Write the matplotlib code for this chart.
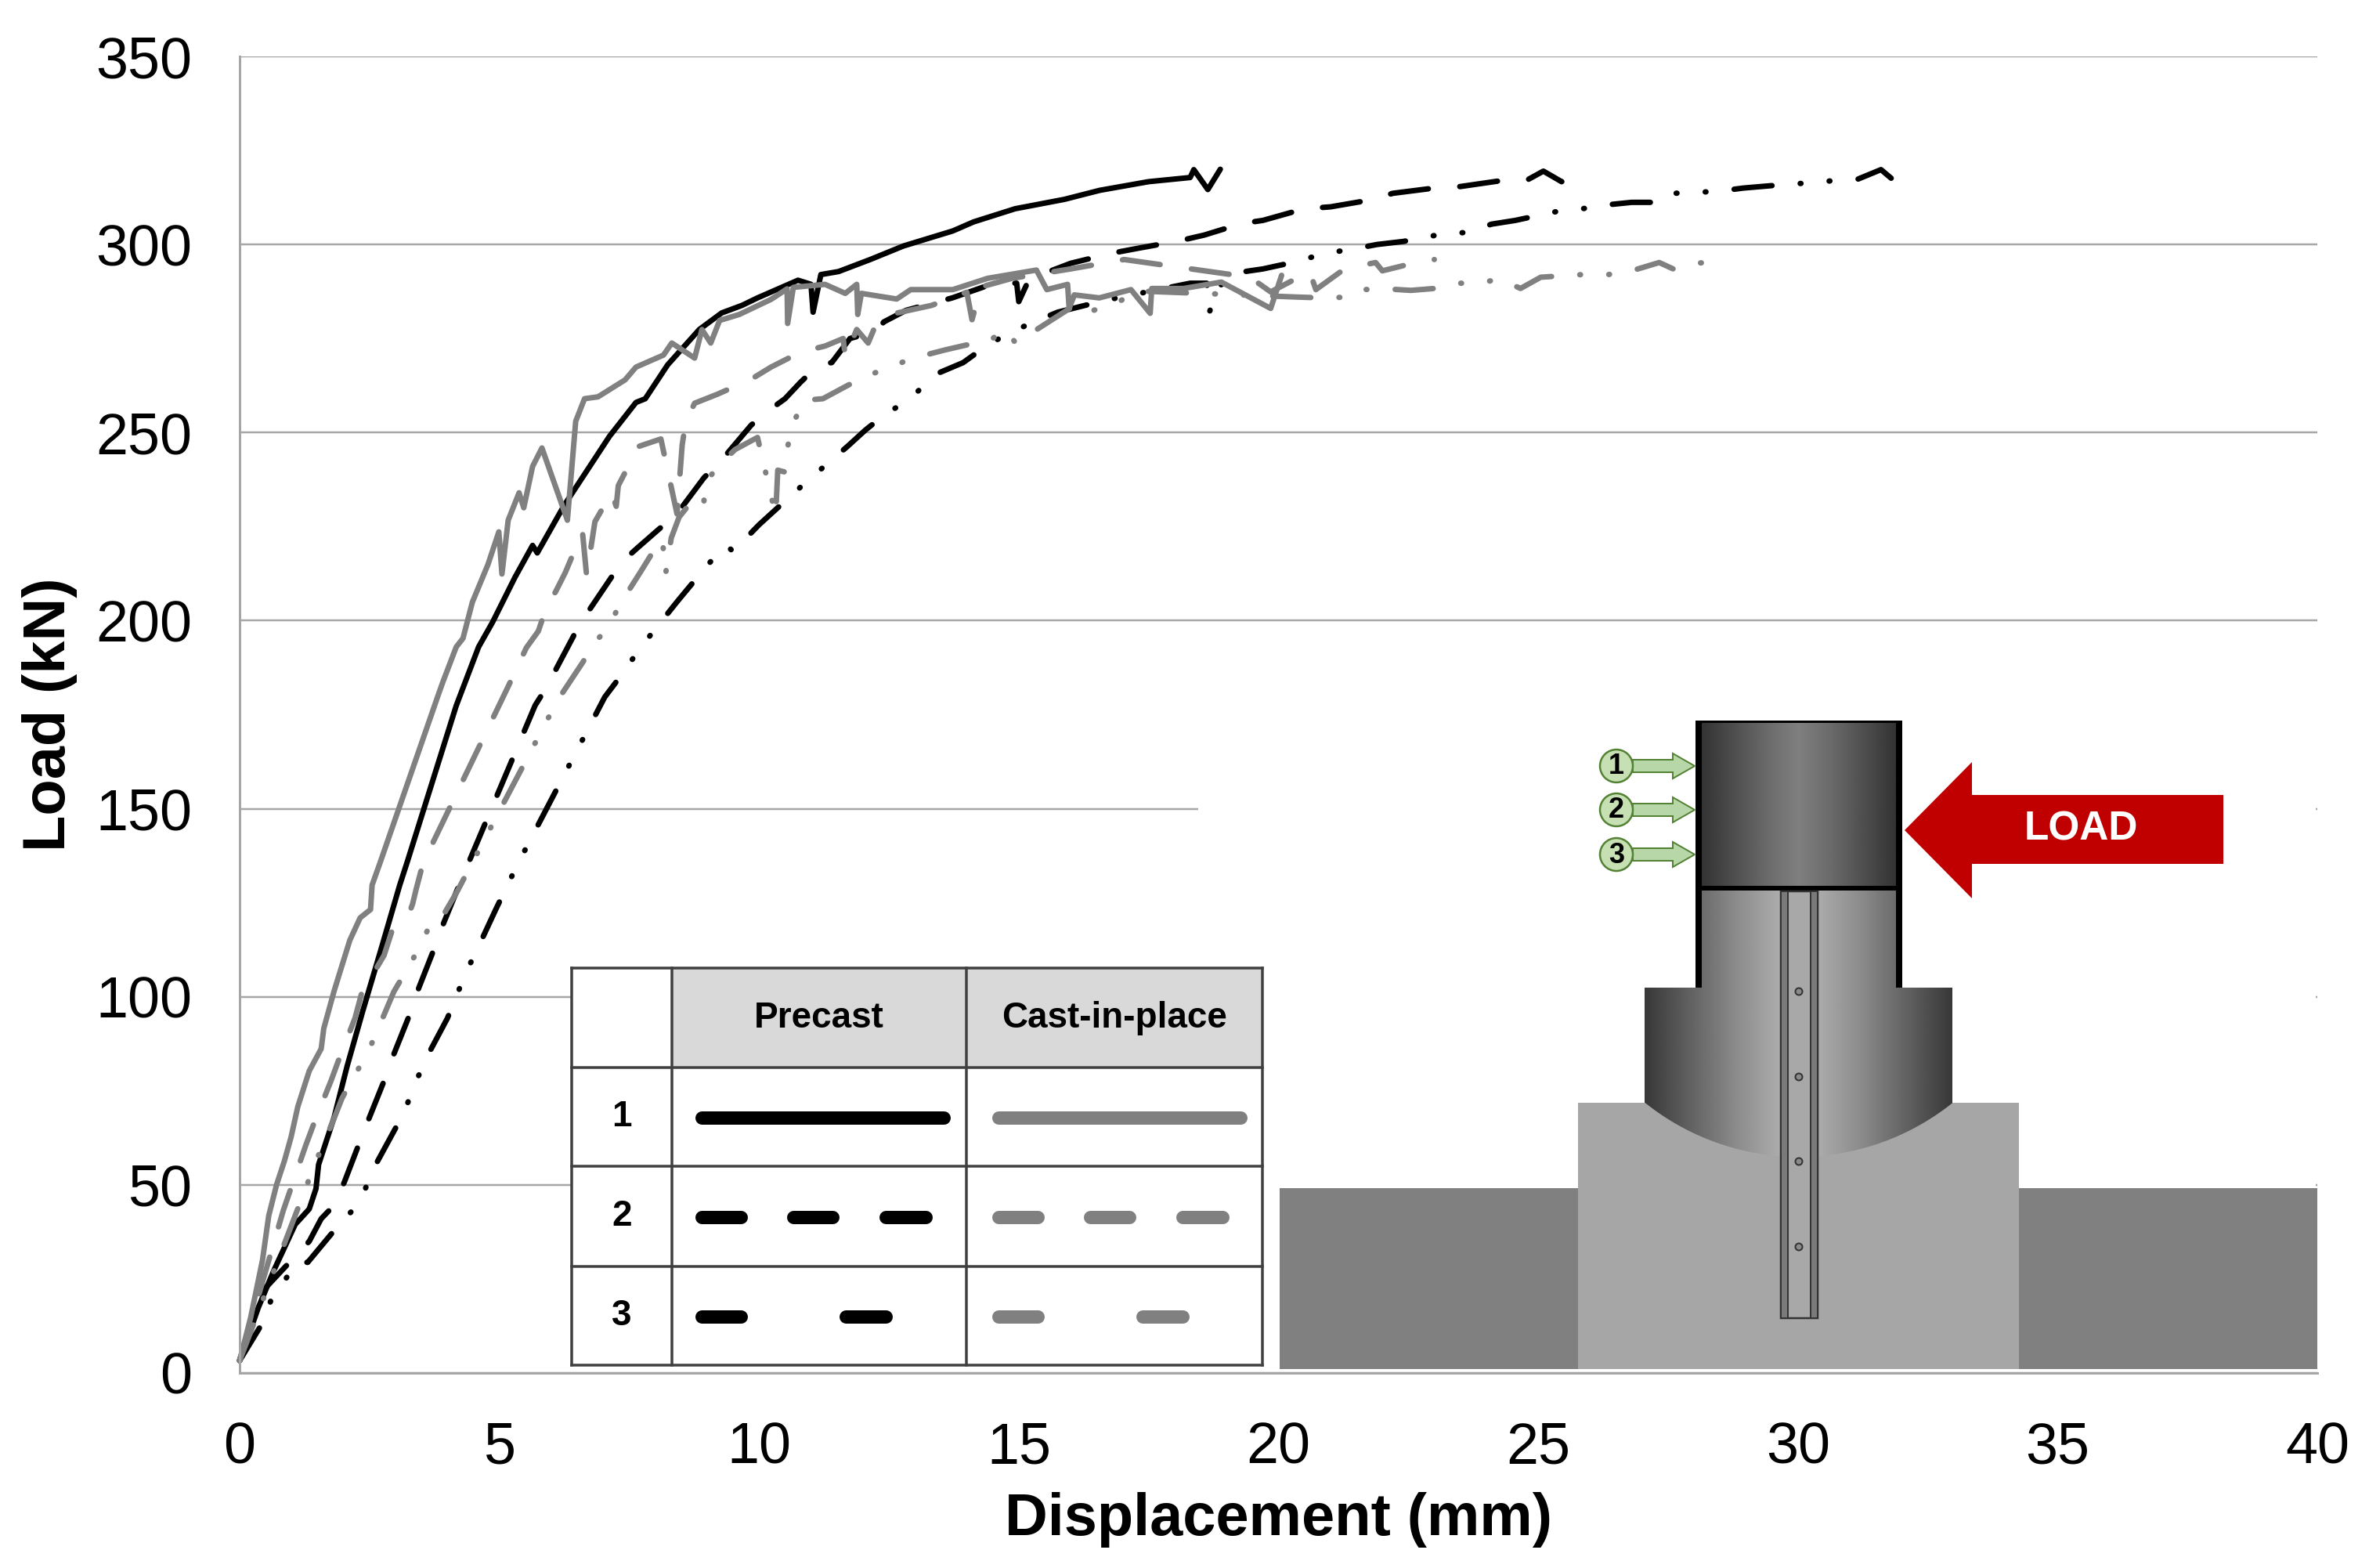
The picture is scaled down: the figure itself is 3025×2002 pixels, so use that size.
import matplotlib
matplotlib.use("Agg")
import matplotlib.pyplot as plt
import numpy as np
from matplotlib.patches import Circle, Polygon, Rectangle

plt.rcParams["font.family"] = ["Liberation Sans", "DejaVu Sans"]
plt.rcParams["lines.scale_dashes"] = False

# Load-displacement curves (mm, kN)
precast_1_x = [0.0, 0.36, 0.66, 1.07, 1.34, 1.47, 1.52, 1.82, 2.07, 2.37, 2.73, 3.08, 3.23, 4.17, 4.6, 4.87, 5.3, 5.64, 5.73, 6.25, 7.12, 7.63, 7.81, 8.24, 8.85, 9.28, 9.67, 9.97, 10.75, 11.0, 11.04, 11.19, 11.53, 12.14, 12.78, 13.73, 14.13, 14.93, 15.88, 16.56, 17.5, 18.3, 18.37, 18.64, 18.88]
precast_1_y = [3.3, 17.4, 27.3, 39.5, 43.6, 49, 55.4, 68, 81.6, 96.2, 113, 129.6, 136, 177.4, 193, 199.6, 211.5, 220, 218, 230.7, 249, 258, 259, 268, 277.4, 281.8, 283.8, 285.8, 290.5, 289.4, 282, 292, 292.8, 296, 299.6, 303.6, 306, 309.5, 312, 314.4, 316.7, 317.8, 319.9, 314.6, 320]

precast_2_x = [0.0, 0.05, 0.51, 1.34, 1.57, 1.82, 2.02, 2.32, 2.5, 2.82, 2.97, 3.3, 3.45, 3.76, 3.93, 4.25, 5.69, 5.85, 6.08, 6.47, 6.73, 7.2, 7.51, 7.68, 8.07, 8.42, 8.94, 9.28, 9.85, 10.19, 10.5, 10.8, 11.15, 11.4, 11.75, 12.27, 12.4, 12.83, 13.72, 14.53, 14.96, 15.0, 15.2, 16.0, 16.8, 17.3, 18.1, 18.57, 19.3, 19.7, 20.5, 21.0, 21.8, 22.2, 23.0, 23.5, 24.3, 24.77, 25.1, 25.45, 25.64, 25.85]
precast_2_y = [3.3, 5.5, 22.8, 35, 41, 44.6, 50.9, 61.7, 68, 79, 84.8, 96.2, 102.4, 113.3, 119.7, 130.5, 177.5, 181, 186.8, 197, 202.8, 212.4, 217.5, 219.6, 224.3, 228.4, 238, 242.7, 252, 255.9, 259, 263.4, 268, 268.6, 275, 277, 279.4, 282.5, 285.8, 289.7, 289.7, 284.8, 290.8, 295, 297.7, 299, 301, 302.5, 305.6, 306.4, 309.5, 310, 311.9, 313.6, 315, 315.4, 317, 317, 319.5, 316.7, 317, 320]

precast_3_x = [0.0, 0.44, 0.61, 1.12, 1.31, 1.87, 2.17, 2.42, 2.62, 3.03, 3.23, 3.4, 3.6, 4.0, 4.18, 4.36, 4.58, 4.93, 5.14, 5.35, 7.03, 7.32, 7.6, 7.9, 8.42, 8.72, 9.02, 9.37, 9.5, 10.0, 10.7, 11.06, 11.7, 12.05, 12.44, 12.83, 13.45, 13.93, 14.3, 14.73, 15.27, 15.75, 16.68, 18.3, 18.62, 18.67, 18.84, 19.2, 19.7, 20.2, 20.93, 21.44, 21.9, 22.4, 23.2, 23.65, 24.1, 24.56, 25.37, 25.85, 26.3, 26.8, 27.3, 27.6, 28.0, 28.5, 28.95, 29.8, 30.26, 30.7, 31.16, 31.6, 31.9, 32.15]
precast_3_y = [3.3, 13.3, 19.6, 29.6, 29.4, 38.7, 43.2, 49, 55.4, 65.8, 71.6, 77.6, 83.9, 94.3, 100.4, 106.6, 112.8, 123.2, 129.2, 135.2, 179.7, 185, 190.5, 196, 205, 210, 215, 220, 218.4, 225.5, 234.3, 238.7, 246.3, 250.7, 255, 258.2, 265.8, 268.6, 272.3, 275.9, 279.3, 282, 285.2, 289.7, 289.7, 282, 288.7, 292.5, 293.5, 295, 297.7, 298.8, 300, 300.8, 302.9, 303.2, 305.4, 306.4, 308.8, 309.5, 310.5, 311.2, 311.2, 313.6, 313.8, 314.2, 315, 316, 316.4, 317, 317.4, 319.9, 316.4, 317.2]

cast_1_x = [0.0, 0.21, 0.44, 0.56, 0.71, 0.86, 0.99, 1.12, 1.34, 1.57, 1.62, 1.82, 2.12, 2.32, 2.52, 2.55, 2.7, 3.83, 3.91, 4.17, 4.3, 4.48, 4.78, 4.99, 5.05, 5.17, 5.38, 5.47, 5.64, 5.82, 6.31, 6.47, 6.64, 6.9, 7.42, 7.63, 8.16, 8.32, 8.76, 8.9, 9.07, 9.24, 9.62, 10.23, 10.54, 10.55, 10.66, 11.27, 11.66, 11.88, 11.9, 11.97, 12.65, 12.92, 13.73, 14.4, 15.34, 15.54, 15.94, 15.97, 16.07, 16.55, 17.16, 17.53, 17.56, 18.17, 18.9, 19.85, 20.06]
cast_1_y = [3.3, 14.6, 30, 41.8, 50, 56.3, 62.7, 70.8, 80.3, 86.2, 91.6, 101.6, 115, 121, 123.2, 129.7, 135.5, 180.5, 183.6, 193, 195.3, 204.9, 214.9, 223.6, 212.4, 226.7, 234, 230, 241, 245.9, 226.7, 253, 259, 259.5, 264, 267.4, 270.6, 273.8, 269.8, 277.4, 273.8, 279.8, 281.4, 285.4, 288.2, 279, 288.6, 289.4, 287, 289.4, 281.4, 287, 285.5, 288, 288, 291, 293.2, 288, 289.4, 283, 286.6, 285.8, 288, 281.7, 288.3, 288.3, 290, 283, 291.8]

cast_2_x = [0.0, 0.84, 1.0, 1.27, 1.44, 1.76, 1.92, 2.22, 2.35, 2.78, 2.93, 3.27, 3.33, 3.4, 3.53, 5.17, 5.52, 5.75, 5.95, 6.08, 6.27, 6.6, 6.68, 6.84, 7.16, 7.25, 7.29, 7.68, 8.11, 8.42, 8.52, 8.59, 8.76, 9.2, 9.85, 10.23, 10.8, 11.27, 11.62, 11.66, 11.88, 12.1, 12.27, 12.66, 13.32, 14.0, 14.1, 14.27, 14.87, 16.0, 17.03, 19.45, 19.85, 20.6, 20.72, 21.27, 21.87, 22.0, 22.47, 23.0]
cast_2_y = [3.3, 43.2, 49.6, 60.4, 66.7, 77.7, 83.7, 94.3, 101, 111, 117.4, 122.4, 124.7, 128.7, 135.5, 182.5, 192.8, 197.2, 205.3, 207.6, 212.8, 223.6, 212, 226.3, 234, 230.4, 235.9, 246.3, 248.3, 228.4, 246.7, 253, 257.8, 260.2, 264.2, 267.4, 271.4, 273, 275, 270, 277.4, 273.8, 279.4, 281.8, 283.8, 287.3, 280, 288.7, 291, 293.5, 296, 291.3, 287.4, 292.8, 288, 293.5, 295.2, 293, 294.6, 296]

cast_3_x = [0.0, 1.47, 1.79, 1.97, 2.2, 2.47, 2.6, 2.78, 2.97, 3.21, 3.45, 3.73, 3.95, 4.18, 6.12, 6.6, 6.86, 7.1, 7.33, 7.72, 7.98, 8.14, 8.2, 8.31, 8.46, 8.76, 8.94, 8.94, 9.24, 9.54, 9.97, 10.32, 10.36, 10.5, 10.54, 10.69, 10.88, 11.23, 11.66, 12.05, 12.44, 12.92, 13.59, 14.0, 14.4, 14.74, 14.94, 16.15, 16.42, 16.82, 17.36, 20.4, 20.86, 21.33, 21.6, 22.07, 22.55, 23.0, 23.42, 23.83, 24.27, 24.66, 25.05, 25.85, 26.35, 26.8, 27.33, 27.6, 28.03, 28.5]
cast_3_y = [3.3, 56.3, 66.7, 73, 79, 84.8, 89.7, 95.2, 101.4, 107, 112.8, 121, 122.4, 127.8, 178.8, 188.8, 194.5, 198.4, 204.5, 213, 218.8, 221.5, 212.4, 222, 227.5, 232.7, 231, 236.3, 241.5, 245.5, 248.7, 228, 240, 239.5, 245.8, 253.5, 258.6, 259, 262.2, 265, 266.9, 269.6, 272, 273.3, 274, 277.5, 273.8, 284.5, 282.4, 284.2, 287.6, 286, 285.8, 286, 288, 288.2, 287.8, 288.3, 289.7, 289.7, 290.8, 288.3, 291.3, 292, 292, 293, 295.2, 293.5, 295, 295.5]

x_ticks = [0, 5, 10, 15, 20, 25, 30, 35, 40]
y_ticks = [0, 50, 100, 150, 200, 250, 300, 350]
table_headers = ["Precast", "Cast-in-place"]
table_rows = ["1", "2", "3"]

W, H = 3025, 2002
PX = 0.72  # one pixel in points at dpi 100
BLACK = "#000000"
GRAY = "#808080"
dash_style = (0, (35, 29))
dash_dot_style = (0, (35, 26, 0.7, 26, 0.7, 26))

fig = plt.figure(figsize=(W / 100, H / 100), dpi=100, facecolor="white")

# Main chart
ax = fig.add_axes([306 / W, 1 - 1753 / H, (2959 - 306) / W, (1753 - 72) / H])
ax.set_xlim(0, 40)
ax.set_ylim(0, 350)
ax.set_xticks(x_ticks)
ax.set_yticks(y_ticks)
ax.tick_params(length=0, labelsize=53, pad=44)
ax.grid(axis="y", color="#a6a6a6", lw=2.5 * PX)
ax.set_axisbelow(True)
for side in ["top", "right"]:
    ax.spines[side].set_visible(False)
for side in ["left", "bottom"]:
    ax.spines[side].set_color("#a6a6a6")
    ax.spines[side].set_linewidth(3 * PX)

for xs, ys, color, style in [
    (precast_1_x, precast_1_y, BLACK, "-"),
    (precast_2_x, precast_2_y, BLACK, dash_style),
    (precast_3_x, precast_3_y, BLACK, dash_dot_style),
    (cast_1_x, cast_1_y, GRAY, "-"),
    (cast_2_x, cast_2_y, GRAY, dash_style),
    (cast_3_x, cast_3_y, GRAY, dash_dot_style),
]:
    ax.plot(xs, ys, color=color, ls=style, lw=7 * PX, dash_capstyle="round",
            solid_capstyle="round", solid_joinstyle="round", clip_on=False)

ax.set_xlabel("Displacement (mm)", fontsize=54.5, fontweight="bold")
ax.xaxis.set_label_coords(0.5, -(1940 - 1753) / (1753 - 72), transform=ax.transAxes)
ax.xaxis.label.set_va("center")
ax.set_ylabel("Load (kN)", fontsize=54.5, fontweight="bold")
ax.yaxis.set_label_coords(-(306 - 64) / (2959 - 306), (1753 - 912) / (1753 - 72), transform=ax.transAxes)
ax.yaxis.label.set_va("center")

# Overlay in pixel coordinates for the legend table and the specimen sketch
ov = fig.add_axes([0, 0, 1, 1], facecolor="none")
ov.axis("off")

ov.add_patch(Rectangle((1530, 900), 1427, 850, fc="white", ec="none", zorder=1))

# Legend table
col_x = [730, 858, 1234, 1612]
row_y = [1236, 1363, 1489, 1617, 1743]
ov.add_patch(Rectangle((col_x[0], row_y[0]), col_x[3] - col_x[0], row_y[4] - row_y[0], fc="white", ec="none", zorder=2))
ov.add_patch(Rectangle((col_x[1], row_y[0]), col_x[3] - col_x[1], row_y[1] - row_y[0], fc="#d9d9d9", ec="none", zorder=2))
for x in col_x:
    ov.plot([x, x], [row_y[0], row_y[4]], color="#404040", lw=3.5 * PX, zorder=3, solid_capstyle="projecting")
for y in row_y:
    ov.plot([col_x[0], col_x[3]], [y, y], color="#404040", lw=3.5 * PX, zorder=3, solid_capstyle="projecting")
for i, label in enumerate(table_headers):
    ov.text((col_x[i + 1] + col_x[i + 2]) / 2, (row_y[0] + row_y[1]) / 2 + 1, label, fontsize=33,
            fontweight="bold", ha="center", va="center", zorder=4)
for i, label in enumerate(table_rows):
    ov.text((col_x[0] + col_x[1]) / 2, (row_y[i + 1] + row_y[i + 2]) / 2, label, fontsize=33,
            fontweight="bold", ha="center", va="center", zorder=4)

samples = [
    [(896, 1205)],
    [(896, 946), (1013, 1063), (1131, 1182)],
    [(896, 946), (1013, 1013), (1080, 1131), (1198, 1198)],
]
for i, segs in enumerate(samples):
    y = (row_y[i + 1] + row_y[i + 2]) / 2 + 1
    for x0, x1 in segs:
        # dots sit on a zero length segment, round caps draw them
        ov.plot([x0, x1 + 0.1], [y, y], color=BLACK, lw=17 * PX, solid_capstyle="round", zorder=4)
        ov.plot([x0 + 379, x1 + 379.1], [y, y], color=GRAY, lw=17 * PX, solid_capstyle="round", zorder=4)

# Slab and block
ov.add_patch(Rectangle((1634, 1517), 2959 - 1634, 1748 - 1517, fc="#808080", ec="none", zorder=2))
ov.add_patch(Rectangle((2015, 1408), 2578 - 2015, 1748 - 1408, fc="#a6a6a6", ec="none", zorder=3))

# Lower column with its rounded base, one horizontal gradient clipped to the outline
ramp = np.interp(np.linspace(0, 1, 401), [0, 0.3, 0.5, 0.7, 1], [0.22, 0.55, 0.73, 0.55, 0.22])
angles = np.linspace(np.arcsin(196.5 / 314), -np.arcsin(196.5 / 314), 60)
outline = [(2173, 1135), (2421, 1135), (2421, 1261), (2493, 1261), (2493, 1408)]
outline += [(2297 + 314 * np.sin(a), 1163 + 314 * np.cos(a)) for a in angles]
outline += [(2100, 1408), (2100, 1261), (2173, 1261)]
lower = Polygon(outline, closed=True, fc="none", ec="none", transform=ov.transData)
ov.add_patch(lower)
im = ov.imshow(ramp[None, :], cmap="gray", vmin=0, vmax=1, extent=(2100, 2493, 1480, 1135), aspect="auto", zorder=4)
im.set_clip_path(lower)

# Upper column
ramp_top = np.interp(np.linspace(0, 1, 265), [0, 0.35, 0.5, 0.65, 1], [0.18, 0.42, 0.5, 0.42, 0.18])
ov.imshow(ramp_top[None, :], cmap="gray", vmin=0, vmax=1, extent=(2165, 2429, 1135, 921), aspect="auto", zorder=4)
for x0 in [2165, 2421]:
    ov.add_patch(Rectangle((x0, 921), 8, 340, fc="black", ec="none", zorder=5))
ov.add_patch(Rectangle((2165, 1131), 264, 6, fc="black", ec="none", zorder=5))
ov.add_patch(Rectangle((2165, 920), 264, 3, fc="black", ec="none", zorder=5))

# Embedded bar with its holes
ov.add_patch(Rectangle((2274, 1138), 47, 545, fc="#a8a8a8", ec="#333333", lw=2.5 * PX, zorder=6))
for x0 in [2274, 2312]:
    ov.add_patch(Rectangle((x0, 1138), 9, 545, fc="#7a7a7a", ec="#333333", lw=2 * PX, zorder=6))
for y in [1266, 1375, 1483, 1592]:
    ov.add_patch(Circle((2297, y), 4.5, fc="#8a8a8a", ec="#333333", lw=2 * PX, zorder=7))

# Load arrow
ov.add_patch(Polygon([(2432, 1060), (2518, 973), (2518, 1015), (2839, 1015), (2839, 1103), (2518, 1103), (2518, 1147)],
                     closed=True, fc="#c00000", ec="none", zorder=6))
ov.text(2657, 1059, "LOAD", color="white", fontsize=37, fontweight="bold", ha="center", va="center", zorder=7)

# Numbered section markers
for label, y in zip(table_rows, [978, 1034, 1091]):
    ov.add_patch(Polygon([(2085, y - 8), (2136, y - 8), (2136, y - 16), (2164, y), (2136, y + 16), (2136, y + 8), (2085, y + 8)],
                         closed=True, fc="#b7d7a8", ec="#548235", lw=2 * PX, zorder=6))
    ov.add_patch(Circle((2064, y), 21, fc="#c6e0b4", ec="#548235", lw=2.5 * PX, zorder=7))
    ov.text(2064, y + 1, label, fontsize=26, fontweight="bold", ha="center", va="center", zorder=8)

ov.set_xlim(0, W)
ov.set_ylim(H, 0)

fig.savefig("out.png", dpi=100)
